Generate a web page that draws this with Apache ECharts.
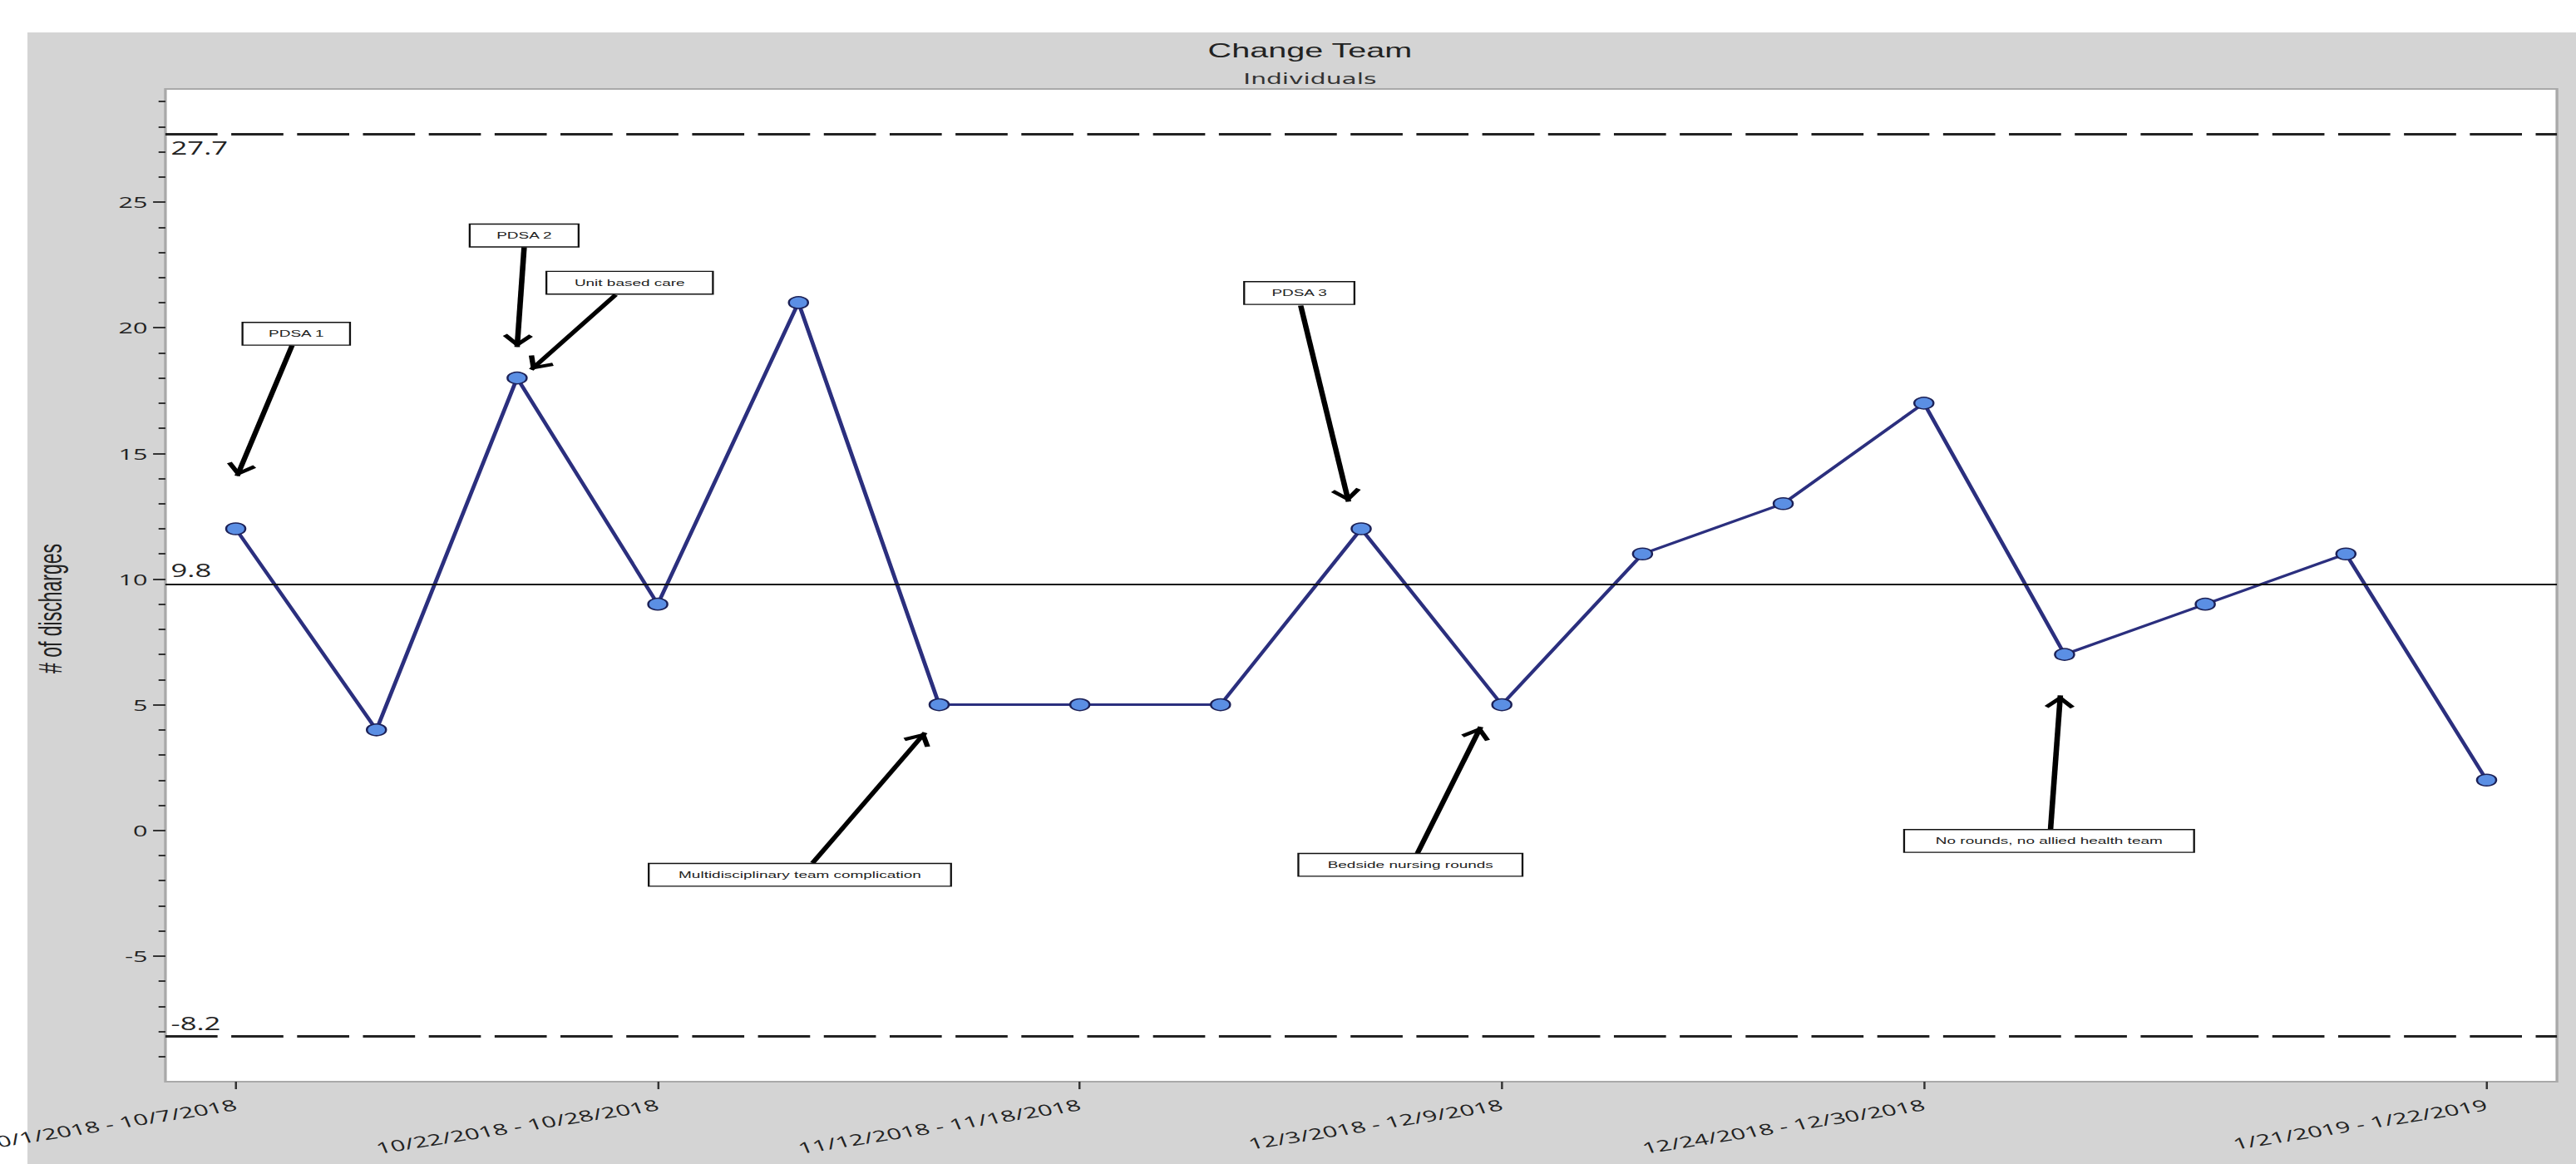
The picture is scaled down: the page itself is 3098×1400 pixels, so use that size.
<!DOCTYPE html>
<html>
<head>
<meta charset="utf-8">
<script src="https://cdn.jsdelivr.net/npm/echarts@6/dist/echarts.min.js"></script>
<style>
html,body{margin:0;padding:0;width:3098px;height:1400px;overflow:hidden;background:#ffffff;}
#bg{position:absolute;left:33px;top:39px;width:3065px;height:1361px;background:#d4d4d4;}
#wrap{position:absolute;left:0;top:0;width:3098px;height:1400px;overflow:hidden;}
#chart{position:absolute;left:0;top:0;width:1878px;height:1400px;transform:scaleX(1.64963);transform-origin:0 0;}
</style>
</head>
<body>
<div id="bg"></div>
<div id="wrap"><div id="chart"></div></div>
<script>
// ---- data ----
const categories = [
  "10/1/2018 - 10/7/2018", "10/8/2018 - 10/14/2018", "10/15/2018 - 10/21/2018",
  "10/22/2018 - 10/28/2018", "10/29/2018 - 11/4/2018", "11/5/2018 - 11/11/2018",
  "11/12/2018 - 11/18/2018", "11/19/2018 - 11/25/2018", "11/26/2018 - 12/2/2018",
  "12/3/2018 - 12/9/2018", "12/10/2018 - 12/16/2018", "12/17/2018 - 12/23/2018",
  "12/24/2018 - 12/30/2018", "12/31/2018 - 1/6/2019", "1/7/2019 - 1/13/2019",
  "1/14/2019 - 1/20/2019", "1/21/2019 - 1/22/2019"
];
const discharges = [12, 4, 18, 9, 21, 5, 5, 5, 12, 5, 11, 13, 17, 7, 9, 11, 2];
const limitValues = [27.7, 9.8, -8.2];          // UCL, centre line, LCL
const xLabelIndices = [0, 3, 6, 9, 12, 16];
const yMajorTicks = [-5, 0, 5, 10, 15, 20, 25];
const yMinorTicks = [-9,-8,-7,-6,-4,-3,-2,-1,1,2,3,4,6,7,8,9,11,12,13,14,16,17,18,19,21,22,23,24,26,27,28,29];
const annotationTexts = [
  "PDSA 1", "PDSA 2", "Unit based care", "PDSA 3",
  "Multidisciplinary team complication", "Bedside nursing rounds",
  "No rounds, no allied health team"
];

// ---- layout of annotations (data coordinates), kept separate from data ----
const annLayout = [
  {box:[0.43, 19.76], w:79,  from:[0.40, 19.29], to:[0.01, 14.1]},
  {box:[2.05, 23.67], w:80,  from:[2.05, 23.2],  to:[2.00, 19.23]},
  {box:[2.80, 21.79], w:122, from:[2.70, 21.31], to:[2.10, 18.33]},
  {box:[7.56, 21.38], w:81,  from:[7.57, 20.88], to:[7.91, 13.08]},
  {box:[4.01, -1.77], w:221, from:[4.10, -1.30], to:[4.90, 3.89]},
  {box:[8.35, -1.37], w:164, from:[8.40, -0.91], to:[8.85, 4.12]},
  {box:[12.89, -0.42], w:212, from:[12.90, 0.02], to:[12.97, 5.37]}
];

const arrowHead = 'path://M-15.5,-15.5 M15.5,15.5 M0,0 L11,13 L8,15.5 L0,6 L-8,15.5 L-11,13 Z';

const chart = echarts.init(document.getElementById('chart'), null, {renderer: 'svg'});

const lineData = discharges.map((v, i) => [i, v]);

const limitLines = limitValues.map((v, i) => ({
  yAxis: v,
  lineStyle: i === 1
    ? {type: 'solid', width: 2, color: '#111'}
    : {type: [38, 10], width: 3, color: '#222'},
  label: {
    show: true,
    position: i === 0 ? 'insideStartBottom' : 'insideStartTop',
    formatter: String(v),
    distance: [4, 6],
    fontSize: 21,
    fontFamily: 'Open Sans',
    color: '#222'
  }
}));

const arrowLines = annLayout.map(a => [
  {coord: a.from, symbol: 'none'},
  {coord: a.to, symbol: arrowHead, symbolSize: 31}
]);

const boxes = annLayout.map((a, i) => ({
  name: annotationTexts[i],
  coord: a.box,
  symbol: 'circle',
  symbolSize: 0,
  label: {
    show: true,
    position: 'inside',
    formatter: '{b}',
    width: a.w - 2,
    height: 26,
    lineHeight: 26,
    align: 'center',
    verticalAlign: 'middle',
    padding: 0,
    backgroundColor: '#ffffff',
    borderColor: '#111',
    borderWidth: 1.4,
    color: '#222',
    fontSize: 11.5,
    fontFamily: 'Liberation Sans'
  }
}));

const option = {
  backgroundColor: 'transparent',
  animation: false,
  title: {
    text: 'Change Team',
    subtext: 'Individuals',
    left: 955,
    top: 49,
    textAlign: 'center',
    itemGap: 13,
    padding: 0,
    textStyle: {fontSize: 24, fontWeight: 'normal', color: '#222', fontFamily: 'Liberation Sans'},
    subtextStyle: {fontSize: 18, color: '#333', fontFamily: 'DejaVu Sans'}
  },
  grid: {
    left: 120.6, right: 13.9, top: 107, bottom: 99,
    containLabel: false,
    outerBoundsMode: 'none',
    show: true, backgroundColor: '#ffffff', borderColor: '#a9a9a9', borderWidth: 2
  },
  xAxis: {
    type: 'value',
    min: -0.5,
    max: 16.5,
    axisLine: {show: false, onZero: false},
    splitLine: {show: false},
    axisTick: {show: true, customValues: xLabelIndices, length: 9, lineStyle: {color: '#333', width: 1.5}},
    axisLabel: {
      customValues: xLabelIndices,
      formatter: v => categories[Math.round(v)],
      rotate: 14.5,
      margin: 27,
      fontSize: 18.5,
      fontFamily: 'Open Sans',
      color: '#222'
    }
  },
  yAxis: [
    {
      type: 'value',
      min: -10,
      max: 29.5,
      position: 'left',
      axisLine: {show: false, onZero: false},
      splitLine: {show: false},
      axisTick: {show: true, customValues: yMajorTicks, length: 9, lineStyle: {color: '#333', width: 2}},
      axisLabel: {
        customValues: yMajorTicks,
        margin: 13,
        fontSize: 18.5,
        fontFamily: 'Open Sans',
        color: '#222'
      },
      name: '# of discharges',
      nameLocation: 'middle',
      nameGap: 72,
      nameTextStyle: {fontSize: 23, fontFamily: 'Liberation Sans', color: '#222', padding: [0, 56, 0, 0]}
    },
    {
      type: 'value',
      min: -10,
      max: 29.5,
      position: 'left',
      axisLine: {show: false, onZero: false},
      splitLine: {show: false},
      axisLabel: {show: false},
      axisTick: {show: true, customValues: yMinorTicks, length: 5, lineStyle: {color: '#333', width: 2}}
    }
  ],
  series: [
    {
      name: 'limits',
      type: 'line',
      data: [],
      z: 1,
      silent: true,
      markLine: {
        silent: true,
        symbol: ['none', 'none'],
        animation: false,
        data: limitLines
      }
    },
    {
      name: 'Change Team',
      type: 'line',
      data: lineData,
      z: 3,
      symbol: 'circle',
      symbolSize: 14,
      itemStyle: {color: '#5b8fe4', borderColor: '#1c2157', borderWidth: 1.5},
      lineStyle: {color: '#2b2f7e', width: 3}
    },
    {
      name: 'annotations',
      type: 'line',
      data: [],
      z: 4,
      silent: true,
      markLine: {
        silent: true,
        animation: false,
        symbol: ['none', 'none'],
        lineStyle: {type: 'solid', width: 4, color: '#000'},
        label: {show: false},
        data: arrowLines
      },
      markPoint: {
        silent: true,
        animation: false,
        data: boxes
      }
    }
  ]
};

chart.setOption(option);
</script>
</body>
</html>
